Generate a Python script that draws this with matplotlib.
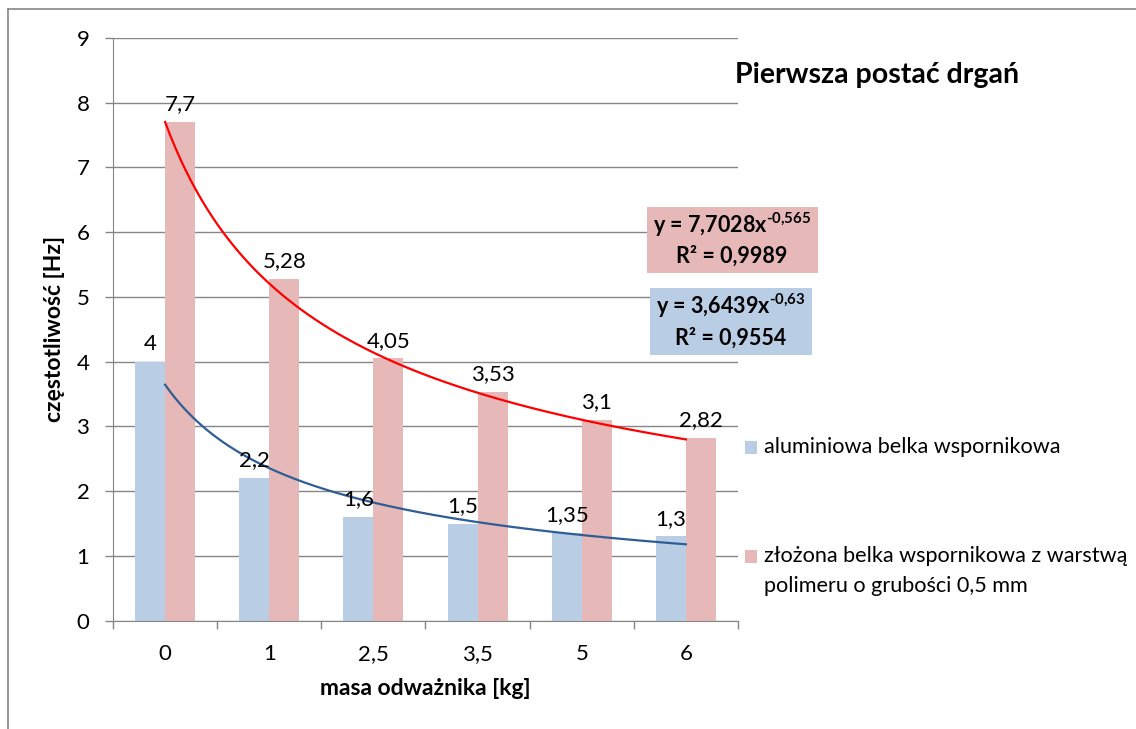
import numpy as np
import matplotlib.pyplot as plt
from matplotlib.patches import Rectangle
from matplotlib.lines import Line2D

plt.rcParams['font.family'] = ['Lato', 'DejaVu Sans']
plt.rcParams['mathtext.fontset'] = 'custom'
plt.rcParams['mathtext.bf'] = 'Lato:bold'
plt.rcParams['mathtext.rm'] = 'Lato'

# dane
kategorie = ['0', '1', '2,5', '3,5', '5', '6']
alu = [4, 2.2, 1.6, 1.5, 1.35, 1.3]
zlozona = [7.7, 5.28, 4.05, 3.53, 3.1, 2.82]
etyk_alu = ['4', '2,2', '1,6', '1,5', '1,35', '1,3']
etyk_zl = ['7,7', '5,28', '4,05', '3,53', '3,1', '2,82']
# wspolczynniki linii trendu (potegowa, x = numer kategorii)
trend_zl = (7.7028, -0.565)
trend_alu = (3.6439, -0.63)

c_alu = '#B9CDE5'
c_zl = '#E6B9B8'
szary = '#868686'

W, H = 1136, 729
fig = plt.figure(figsize=(W / 100, H / 100), dpi=100)

def px(x0, y0, x1, y1):
    # prostokat w pikselach (od gory) -> wspolrzedne figury
    return [x0 / W, 1 - y1 / H, (x1 - x0) / W, (y1 - y0) / H]

ax = fig.add_axes(px(113, 38, 738, 620.6))

x = np.arange(len(kategorie))
w = 0.288
ax.bar(x - w / 2, alu, w, color=c_alu, zorder=2)
ax.bar(x + w / 2, zlozona, w, color=c_zl, zorder=2)

for i in range(len(x)):
    ax.annotate(etyk_alu[i], (x[i] - w / 2, alu[i]), xytext=(0, 8.5), textcoords='offset points',
                ha='center', va='baseline', fontsize=16, zorder=5)
    ax.annotate(etyk_zl[i], (x[i] + w / 2, zlozona[i]), xytext=(0, 8.5), textcoords='offset points',
                ha='center', va='baseline', fontsize=16, zorder=5)

xx = np.linspace(1, 6, 200)
ax.plot(xx - 1, trend_zl[0] * xx ** trend_zl[1], color='#FF0000', lw=1.6, zorder=4)
ax.plot(xx - 1, trend_alu[0] * xx ** trend_alu[1], color='#2F5D95', lw=1.6, zorder=4)

ax.set_xlim(-0.5, 5.5)
ax.set_ylim(0, 9)
ax.set_yticks(range(10))
ax.set_xticks(np.arange(-0.5, 6, 1), minor=False)
ax.set_xticklabels([])
ax.set_xticks(x, minor=True)
ax.set_xticklabels(kategorie, minor=True)
ax.tick_params(axis='x', which='minor', length=0, pad=17, labelsize=16)
ax.tick_params(axis='x', which='major', length=6, color=szary, width=1)
ax.tick_params(axis='y', length=6, color=szary, width=1, pad=11, labelsize=16)
ax.grid(axis='y', color=szary, lw=1, zorder=0)
for s in ['top', 'right']:
    ax.spines[s].set_visible(False)
ax.spines['left'].set_color(szary)
ax.spines['bottom'].set_color(szary)

ax.set_ylabel('częstotliwość [Hz]', fontsize=16.5, fontweight='bold', labelpad=8)
ax.set_xlabel('masa odważnika [kg]', fontsize=16.5, fontweight='bold', labelpad=10)

fig.text(735 / W, 1 - 75 / H, 'Pierwsza postać drgań', fontsize=20.5, fontweight='bold',
         ha='left', va='center')

# pola z rownaniami
fig.patches.append(Rectangle((647 / W, 1 - 273 / H), 171 / W, 66 / H, transform=fig.transFigure,
                             facecolor=c_zl, edgecolor='none'))
fig.patches.append(Rectangle((650 / W, 1 - 355 / H), 162 / W, 67 / H, transform=fig.transFigure,
                             facecolor=c_alu, edgecolor='none'))
fig.text(732 / W, 1 - 225 / H, 'y = 7,7028x$^{\\mathbf{\u20100{,}565}}$', fontsize=15.5, fontweight='bold',
         ha='center', va='center')
fig.text(732 / W, 1 - 256 / H, 'R² = 0,9989', fontsize=15.5, fontweight='bold', ha='center', va='center')
fig.text(731 / W, 1 - 306 / H, 'y = 3,6439x$^{\\mathbf{\u20100{,}63}}$', fontsize=15.5, fontweight='bold',
         ha='center', va='center')
fig.text(731 / W, 1 - 338 / H, 'R² = 0,9554', fontsize=15.5, fontweight='bold', ha='center', va='center')

# legenda (rysowana recznie, znacznik przy pierwszej linii)
legenda = [('aluminiowa belka wspornikowa', c_alu, 447),
           ('złożona belka wspornikowa z warstwą\npolimeru o grubości 0,5 mm', c_zl, 556)]
for tekst, kolor, yy in legenda:
    fig.patches.append(Rectangle((745 / W, 1 - (yy + 6.5) / H), 12 / W, 13 / H,
                                 transform=fig.transFigure, facecolor=kolor, edgecolor='none'))
    fig.text(764 / W, 1 - (yy - 10) / H, tekst, fontsize=15.6, ha='left', va='top', linespacing=1.6)

# ramka wykresu
fig.add_artist(Line2D([8 / W, 8 / W], [0, 1 - 9 / H], color=szary, lw=1.2))
fig.add_artist(Line2D([8 / W, 1], [1 - 9 / H, 1 - 9 / H], color=szary, lw=1.2))

fig.savefig('out.png', dpi=100)
